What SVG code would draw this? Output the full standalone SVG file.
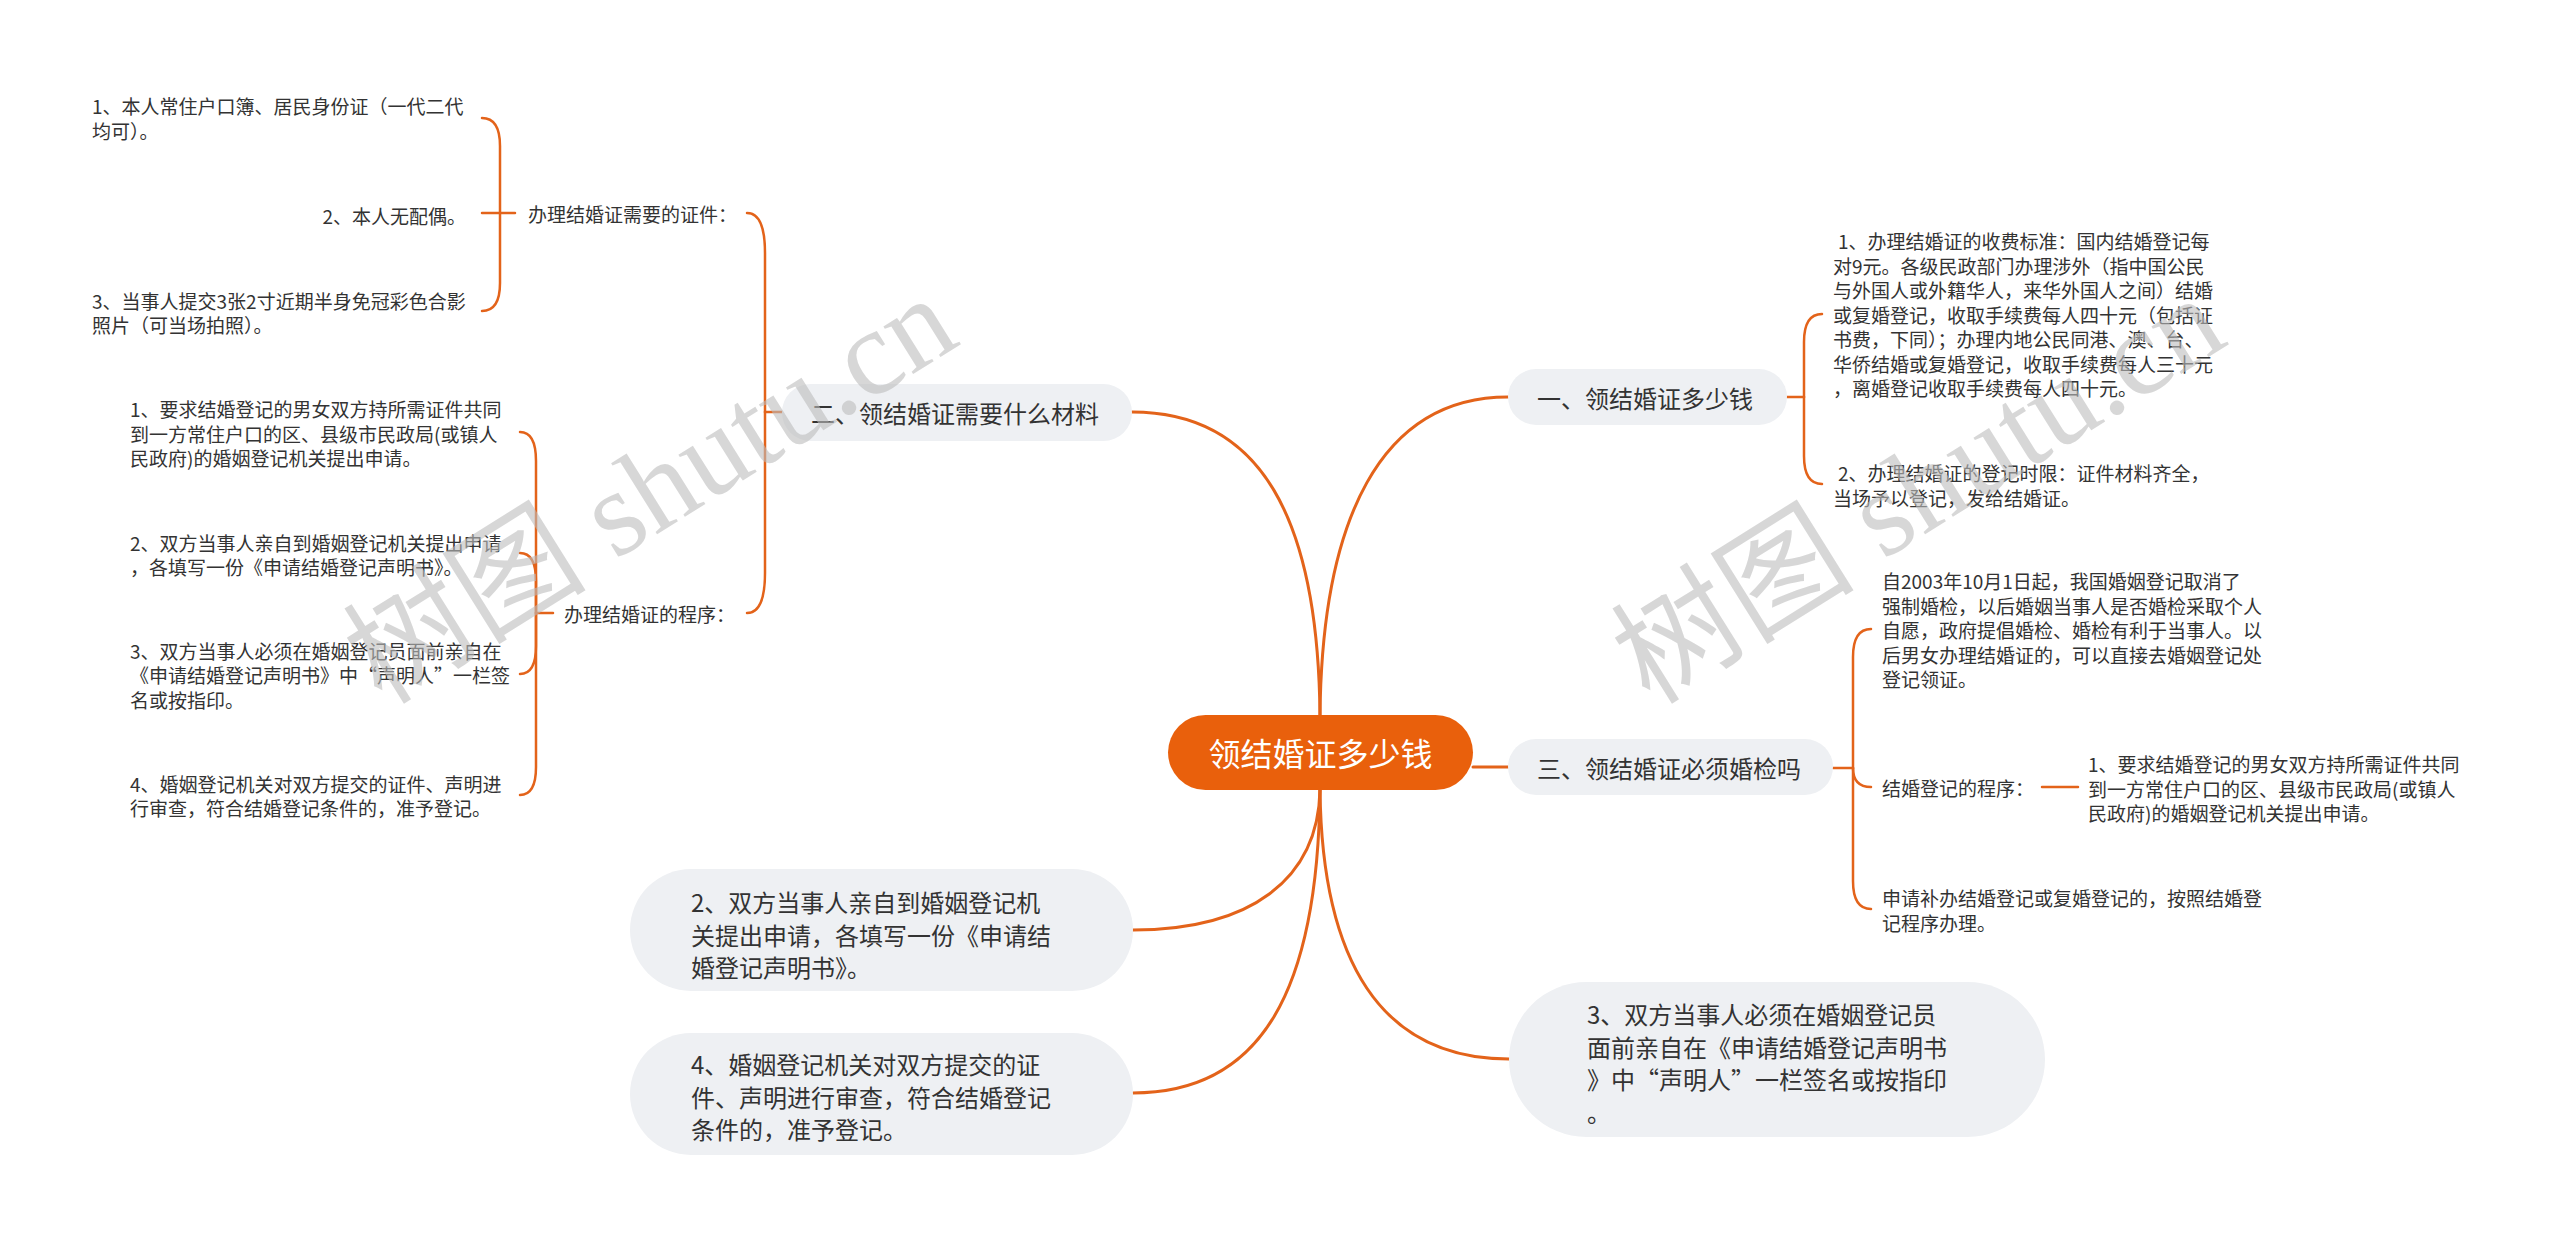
<svg xmlns="http://www.w3.org/2000/svg" width="2560" height="1237" viewBox="0 0 2560 1237">
<style>
.bg{fill:#ffffff}
.ln{fill:none;stroke:#E3631A;stroke-width:3;stroke-linecap:round}
.sl{fill:none;stroke:#E3631A;stroke-width:2.5;stroke-linecap:round}
.nd{fill:#EEF0F3}
.ct{fill:#E9600C}
text{font-family:"Noto Sans CJK SC","Noto Sans",sans-serif;fill:#333333;dominant-baseline:central}
.t24{font-size:24px}
.t19{font-size:19px}
.tc{font-size:32px;fill:#ffffff}
.wm{font-family:"Liberation Serif","Noto Sans CJK SC",serif;font-size:122px;fill:#bdbdbd;fill-opacity:0.6;dominant-baseline:alphabetic}
</style>
<rect class="bg" x="0" y="0" width="2560" height="1237"/>

<g id="connectors">
  <path class="ln" d="M1132,412 C1262,412 1318,520 1320,715"/>
  <path class="ln" d="M1508,397 C1380,397 1322,520 1320,715"/>
  <path class="ln" d="M1473,767 H1508"/>
  <path class="ln" d="M1133,930 C1250,930 1318,880 1320,790"/>
  <path class="ln" d="M1133,1093 C1262,1093 1318,990 1320,790"/>
  <path class="ln" d="M1509,1059 C1380,1059 1322,960 1320,790"/>
  <path class="sl" d="M782,412 H765"/>
  <path class="sl" d="M765,412 V253 Q765,213 747,213"/>
  <path class="sl" d="M765,412 V573 Q765,613 747,613"/>
  <path class="sl" d="M515,213 H500"/>
  <path class="sl" d="M500,213 V146 Q500,118 482,118"/>
  <path class="sl" d="M500,213 H482"/>
  <path class="sl" d="M500,213 V283 Q500,311 482,311"/>
  <path class="sl" d="M553,613 H536"/>
  <path class="sl" d="M536,613 V461 Q536,432 520,432"/>
  <path class="sl" d="M536,613 V581 Q536,553 520,553"/>
  <path class="sl" d="M536,613 V646 Q536,674 520,674"/>
  <path class="sl" d="M536,613 V767 Q536,795 520,795"/>
  <path class="sl" d="M1787,397 H1804"/>
  <path class="sl" d="M1804,397 V342 Q1804,314 1822,314"/>
  <path class="sl" d="M1804,397 V456 Q1804,484 1822,484"/>
  <path class="sl" d="M1833,768 H1853"/>
  <path class="sl" d="M1853,768 V657 Q1853,629 1871,629"/>
  <path class="sl" d="M1853,768 Q1853,787 1871,787"/>
  <path class="sl" d="M1853,768 V881 Q1853,909 1871,909"/>
  <path class="sl" d="M2042,787 H2078"/>
</g>

<g id="center">
  <rect class="ct" x="1168" y="715" width="305" height="75" rx="37.5"/>
  <text class="tc" x="1320.5" y="752" text-anchor="middle">领结婚证多少钱</text>
</g>

<g id="n2-materials">
  <rect class="nd" x="782" y="384" width="350" height="57" rx="28.5"/>
  <text class="t24" x="811" y="412">二、领结婚证需要什么材料</text>
</g>

<g id="n2-docs">
  <text class="t19" x="528" y="213">办理结婚证需要的证件：</text>
</g>
<g id="n2-docs-1">
  <text class="t19"><tspan x="92" y="105">1、本人常住户口簿、居民身份证（一代二代</tspan><tspan x="92" y="130">均可）。</tspan></text>
</g>
<g id="n2-docs-2">
  <text class="t19" x="466" y="215" text-anchor="end">2、本人无配偶。</text>
</g>
<g id="n2-docs-3">
  <text class="t19"><tspan x="92" y="300">3、当事人提交3张2寸近期半身免冠彩色合影</tspan><tspan x="92" y="324">照片（可当场拍照）。</tspan></text>
</g>

<g id="n2-proc">
  <text class="t19" x="564" y="613">办理结婚证的程序：</text>
</g>
<g id="n2-proc-1">
  <text class="t19"><tspan x="130" y="408">1、要求结婚登记的男女双方持所需证件共同</tspan><tspan x="130" y="432.5">到一方常住户口的区、县级市民政局(或镇人</tspan><tspan x="130" y="457">民政府)的婚姻登记机关提出申请。</tspan></text>
</g>
<g id="n2-proc-2">
  <text class="t19"><tspan x="130" y="542">2、双方当事人亲自到婚姻登记机关提出申请</tspan><tspan x="130" y="566">，各填写一份《申请结婚登记声明书》。</tspan></text>
</g>
<g id="n2-proc-3">
  <text class="t19"><tspan x="130" y="650">3、双方当事人必须在婚姻登记员面前亲自在</tspan><tspan x="130" y="674">《申请结婚登记声明书》中“声明人”一栏签</tspan><tspan x="130" y="699">名或按指印。</tspan></text>
</g>
<g id="n2-proc-4">
  <text class="t19"><tspan x="130" y="783">4、婚姻登记机关对双方提交的证件、声明进</tspan><tspan x="130" y="807">行审查，符合结婚登记条件的，准予登记。</tspan></text>
</g>

<g id="n1-cost">
  <rect class="nd" x="1508" y="369" width="279" height="56" rx="28"/>
  <text class="t24" x="1537" y="397">一、领结婚证多少钱</text>
</g>
<g id="n1-cost-1">
  <text class="t19"><tspan x="1838" y="240">1、办理结婚证的收费标准：国内结婚登记每</tspan><tspan x="1833" y="265">对9元。各级民政部门办理涉外（指中国公民</tspan><tspan x="1833" y="289">与外国人或外籍华人，来华外国人之间）结婚</tspan><tspan x="1833" y="314">或复婚登记，收取手续费每人四十元（包括证</tspan><tspan x="1833" y="338">书费，下同）；办理内地公民同港、澳、台、</tspan><tspan x="1833" y="363">华侨结婚或复婚登记，收取手续费每人三十元</tspan><tspan x="1833" y="387">，离婚登记收取手续费每人四十元。</tspan></text>
</g>
<g id="n1-cost-2">
  <text class="t19"><tspan x="1838" y="472">2、办理结婚证的登记时限：证件材料齐全，</tspan><tspan x="1833" y="497">当场予以登记，发给结婚证。</tspan></text>
</g>

<g id="n3-check">
  <rect class="nd" x="1508" y="739" width="325" height="56" rx="28"/>
  <text class="t24" x="1537" y="767">三、领结婚证必须婚检吗</text>
</g>
<g id="n3-check-1">
  <text class="t19"><tspan x="1882" y="580">自2003年10月1日起，我国婚姻登记取消了</tspan><tspan x="1882" y="605">强制婚检，以后婚姻当事人是否婚检采取个人</tspan><tspan x="1882" y="629">自愿，政府提倡婚检、婚检有利于当事人。以</tspan><tspan x="1882" y="654">后男女办理结婚证的，可以直接去婚姻登记处</tspan><tspan x="1882" y="678">登记领证。</tspan></text>
</g>
<g id="n3-check-2">
  <text class="t19" x="1882" y="787">结婚登记的程序：</text>
</g>
<g id="n3-check-2-1">
  <text class="t19"><tspan x="2088" y="763">1、要求结婚登记的男女双方持所需证件共同</tspan><tspan x="2088" y="788">到一方常住户口的区、县级市民政局(或镇人</tspan><tspan x="2088" y="812">民政府)的婚姻登记机关提出申请。</tspan></text>
</g>
<g id="n3-check-3">
  <text class="t19"><tspan x="1882" y="897">申请补办结婚登记或复婚登记的，按照结婚登</tspan><tspan x="1882" y="922">记程序办理。</tspan></text>
</g>

<g id="n-step2">
  <rect class="nd" x="630" y="869" width="503" height="122" rx="61"/>
  <text class="t24"><tspan x="691" y="901">2、双方当事人亲自到婚姻登记机</tspan><tspan x="691" y="933.5">关提出申请，各填写一份《申请结</tspan><tspan x="691" y="966">婚登记声明书》。</tspan></text>
</g>
<g id="n-step4">
  <rect class="nd" x="630" y="1033" width="503" height="122" rx="61"/>
  <text class="t24"><tspan x="691" y="1063">4、婚姻登记机关对双方提交的证</tspan><tspan x="691" y="1095.5">件、声明进行审查，符合结婚登记</tspan><tspan x="691" y="1128">条件的，准予登记。</tspan></text>
</g>
<g id="n-step3">
  <rect class="nd" x="1509" y="982" width="536" height="155" rx="77.5"/>
  <text class="t24"><tspan x="1587" y="1013">3、双方当事人必须在婚姻登记员</tspan><tspan x="1587" y="1045.5">面前亲自在《申请结婚登记声明书</tspan><tspan x="1587" y="1078">》中“声明人”一栏签名或按指印</tspan><tspan x="1587" y="1110.5">。</tspan></text>
</g>

<g id="watermarks">
  <text class="wm" transform="translate(382,706) rotate(-32)">树图 shutu.cn</text>
  <text class="wm" transform="translate(1650,706) rotate(-32)">树图 shutu.cn</text>
</g>
</svg>
